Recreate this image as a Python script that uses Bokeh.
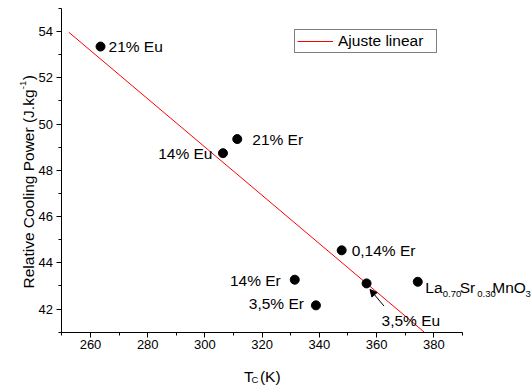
import math
from bokeh.plotting import figure
from bokeh.models import (Range1d, SingleIntervalTicker, Label, Legend, LegendItem,
                          Arrow, NormalHead, ColumnDataSource)
from bokeh.embed import file_html
from bokeh.resources import INLINE

# ---- data ----
samples = ["21% Eu", "14% Eu", "21% Er", "0,14% Er", "14% Er", "3,5% Er", "3,5% Eu", "La0.70Sr0.30MnO3"]
tc = [263.5, 306.3, 311.3, 347.8, 331.4, 338.8, 356.5, 374.4]
rcp = [53.35, 48.74, 49.35, 44.54, 43.27, 42.16, 43.11, 43.18]

fit_x = [252.4, 376.7]
fit_y = [53.97, 41.0]

arrow_x = [362.6, 357.7]
arrow_y = [42.13, 42.85]

x_axis = (250, 390)
y_axis = (41, 55)
x_ticks_major = 20
y_ticks_major = 2

FONT = "Liberation Sans"
FS = "15.5px"
SUB = "9.5px"

# canvas geometry (px): axes box inside the canvas
W, H = 531, 385
AX_L, AX_R, AX_T, AX_B = 61.4, 461.9, 7.9, 331.7
sx = (AX_R - AX_L) / (x_axis[1] - x_axis[0])
sy = (AX_B - AX_T) / (y_axis[1] - y_axis[0])
xr = (x_axis[0] - AX_L / sx, x_axis[1] + (W - AX_R) / sx)
yr = (y_axis[0] - (H - AX_B) / sy, y_axis[1] + AX_T / sy)

p = figure(width=W, height=H, output_backend="svg", toolbar_location=None,
           x_range=Range1d(*xr), y_range=Range1d(*yr), min_border=0,
           min_border_left=0, min_border_right=0, min_border_top=0, min_border_bottom=0)
p.outline_line_color = None
p.xgrid.visible = False
p.ygrid.visible = False
p.background_fill_color = "white"
p.border_fill_color = "white"

p.xaxis.ticker = SingleIntervalTicker(interval=x_ticks_major, num_minor_ticks=2)
p.yaxis.ticker = SingleIntervalTicker(interval=y_ticks_major, num_minor_ticks=2)
p.xaxis.fixed_location = y_axis[0]
p.yaxis.fixed_location = x_axis[0]
p.xaxis.bounds = x_axis
p.yaxis.bounds = y_axis
for ax in (p.xaxis[0], p.yaxis[0]):
    ax.axis_line_color = "black"
    ax.major_tick_line_color = "black"
    ax.minor_tick_line_color = "black"
    ax.major_tick_out = 5
    ax.major_tick_in = 0
    ax.minor_tick_out = 3
    ax.minor_tick_in = 0
    ax.major_label_text_font = FONT
    ax.major_label_text_font_size = "13px"
    ax.major_label_text_color = "black"
    ax.axis_label = None
p.xaxis.major_label_standoff = 3
p.yaxis.major_label_standoff = 4

# fit line
fit_r = p.line(fit_x, fit_y, line_color="#ff0000", line_width=1)

# points
src = ColumnDataSource(dict(x=tc, y=rcp))
p.scatter("x", "y", source=src, marker="circle", size=9, fill_color="black", line_color="black")

# arrow
p.add_layout(Arrow(end=NormalHead(size=7, fill_color="black", line_color="black", line_width=1),
                   x_start=arrow_x[0], y_start=arrow_y[0], x_end=arrow_x[1], y_end=arrow_y[1],
                   line_color="black", line_width=1))


def dlabel(text, x, y, dx, dy, align="left", baseline="middle", fs=FS, angle=0.0):
    p.add_layout(Label(x=x, y=y, x_offset=dx, y_offset=dy, text=text, text_align=align,
                       text_baseline=baseline, text_font=FONT, text_font_size=fs,
                       text_color="black", angle=angle))


# labels: (dx, dy in px, align)
offsets = {
    "21% Eu": (8, 0, "left"),
    "14% Eu": (-10.5, -0.5, "right"),
    "21% Er": (15, 0, "left"),
    "0,14% Er": (10, 0, "left"),
    "14% Er": (-14, -0.5, "right"),
    "3,5% Er": (-12, 1.5, "right"),
    "3,5% Eu": (15, -37, "left"),
}
for name, x, y in zip(samples, tc, rcp):
    if name in offsets:
        dx, dy, al = offsets[name]
        dlabel(name, x, y, dx, dy, align=al)
    else:
        # La0.70Sr0.30MnO3 with subscripts
        parts = [("La", 7.5, -5.5, FS), ("0.70", 25, -12.5, SUB), ("Sr", 42, -5.5, FS),
                 ("0.30", 59.5, -12.5, SUB), ("MnO", 74.5, -5.5, FS), ("3", 107.8, -12.5, SUB)]
        for t, dx, dy, fs in parts:
            dlabel(t, x, y, dx, dy, baseline="alphabetic", fs=fs)

# axis titles, anchored at the lower-left axis corner with pixel offsets
x0, y0 = x_axis[0], y_axis[0]
dlabel("Relative Cooling Power (J.kg", x0, y0, -33.4, 43.7, baseline="alphabetic", angle=math.pi / 2)
dlabel("-1", x0, y0, -39.4, 243, baseline="alphabetic", fs=SUB, angle=math.pi / 2)
dlabel(")", x0, y0, -33.4, 252, baseline="alphabetic", angle=math.pi / 2)

dlabel("T", x0, y0, 182, -44.5, baseline="alphabetic")
dlabel("C", x0, y0, 189.5, -47.5, baseline="alphabetic", fs=SUB)
dlabel("(K)", x0, y0, 198, -44.5, baseline="alphabetic")

legend = Legend(items=[LegendItem(label="Ajuste linear", renderers=[fit_r])],
                location=(294, H - 53.3), padding=2, spacing=0, margin=0,
                glyph_width=36, glyph_height=10, label_standoff=5, label_width=96,
                label_text_font=FONT, label_text_font_size=FS, label_text_color="black",
                border_line_color="black", border_line_width=1, background_fill_color="white",
                background_fill_alpha=1)
p.add_layout(legend)

open("out.html", "w").write(file_html(p, INLINE))
